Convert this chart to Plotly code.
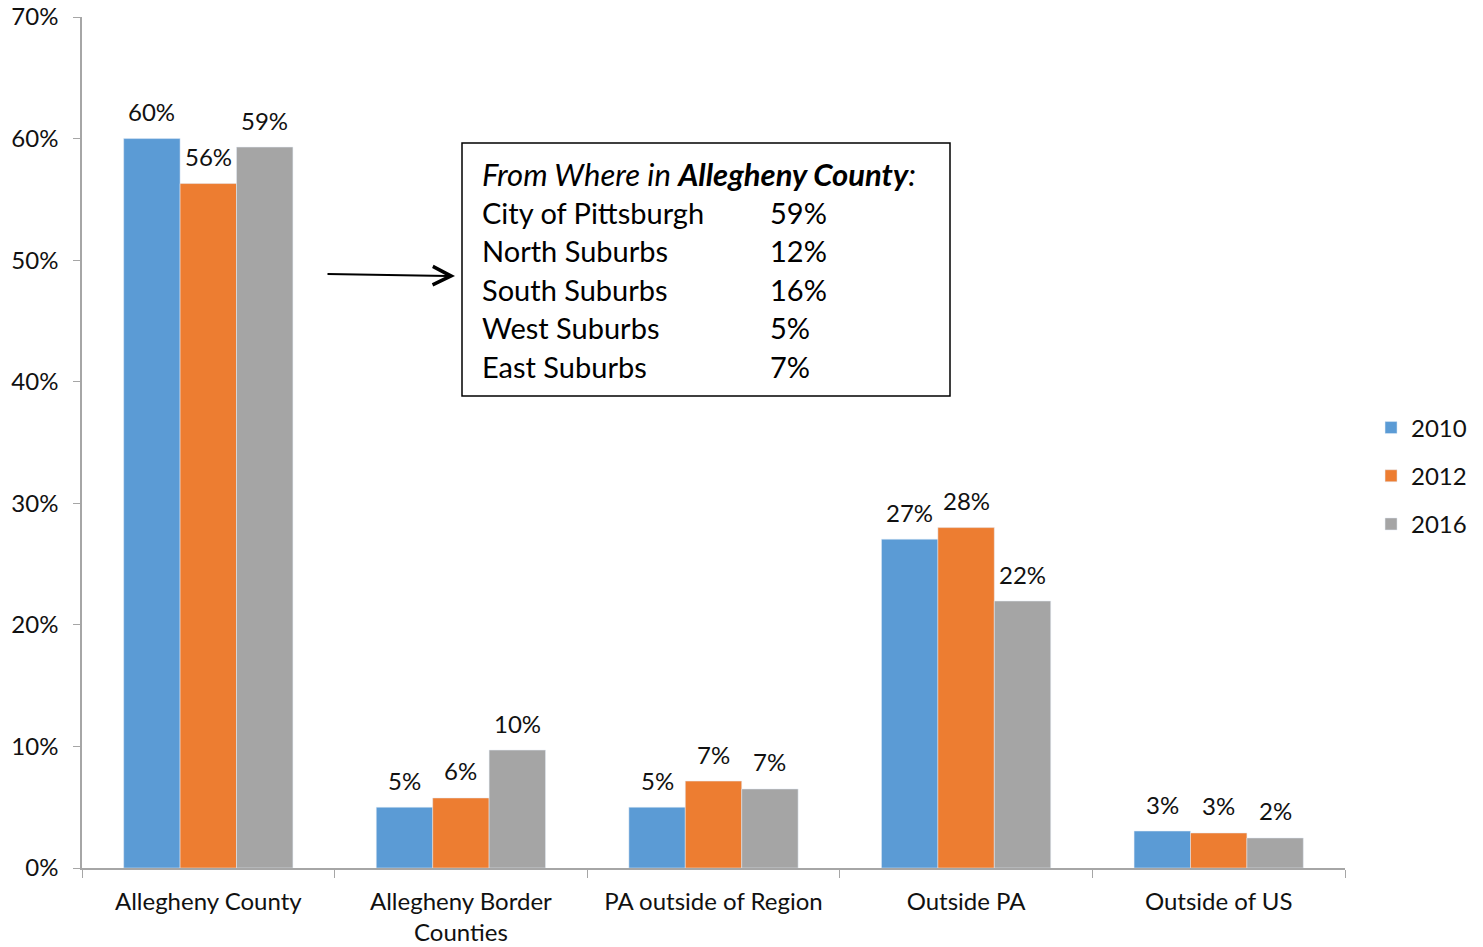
import plotly.graph_objects as go

# ── Data ─────────────────────────────────────────────────────────────────────
categories = ["Allegheny County", "Allegheny Border<br>Counties",
              "PA outside of Region", "Outside PA", "Outside of US"]
years = ["2010", "2012", "2016"]
values_2010 = [60.0, 5.0, 5.0, 27.05, 3.04]
values_2012 = [56.3, 5.76, 7.15, 28.0, 2.88]
values_2016 = [59.3, 9.7, 6.5, 21.96, 2.47]
y_ticks = [0, 10, 20, 30, 40, 50, 60, 70]

box_title = "<i>From Where in <b>Allegheny County</b>:</i>"
box_areas = ["City of Pittsburgh", "North Suburbs", "South Suburbs",
             "West Suburbs", "East Suburbs"]
box_shares = ["59%", "12%", "16%", "5%", "7%"]

# ── Style ────────────────────────────────────────────────────────────────────
BLUE   = "#5B9BD5"
ORANGE = "#ED7D31"
GREY   = "#A5A5A5"
AXIS   = "#A6A6A6"
FONT   = "Lato, sans-serif"
INK    = "#111111"

W, H = 1483, 947
MARGIN = dict(l=82, r=138, t=17, b=79)
BARGAP = 0.33

series = [values_2010, values_2012, values_2016]
colors = [BLUE, ORANGE, GREY]

fig = go.Figure()
for name, vals, col in zip(years, series, colors):
    fig.add_trace(go.Bar(
        x=categories,
        y=vals,
        name=name,
        marker_color=col,
        legendgroup=name,
    ))

# value labels sit a bit higher above the bars than plotly's "outside" text
plot_w = W - MARGIN["l"] - MARGIN["r"]
bar_w = plot_w / len(categories) * (1 - BARGAP) / len(years)
for i, vals in enumerate(series):
    for cat, v in zip(categories, vals):
        fig.add_annotation(
            x=cat, y=v, text=f"{int(v + 0.5)}%",
            xshift=(i - 1) * bar_w, yshift=27,
            xanchor="center", yanchor="middle", showarrow=False,
            font=dict(size=24, color=INK),
        )

fig.update_layout(
    width=W, height=H,
    paper_bgcolor="white", plot_bgcolor="white",
    font=dict(family=FONT, size=24, color=INK),
    margin=MARGIN,
    barmode="group", bargap=BARGAP, bargroupgap=0,
    legend=dict(xref="container", yref="container",
                x=0.9245, y=0.4974, xanchor="left", yanchor="middle",
                font=dict(size=24), tracegroupgap=14),
    showlegend=True,
)
fig.update_xaxes(
    showline=True, linecolor=AXIS, linewidth=1.5,
    ticks="outside", tickson="boundaries", ticklen=8, tickcolor=AXIS,
    showgrid=False, automargin=False, tickfont=dict(size=24),
    ticklabelstandoff=11,
)
fig.update_yaxes(
    range=[0, 70], tickvals=y_ticks, ticktext=[f"{t}%" for t in y_ticks],
    showline=True, linecolor=AXIS, linewidth=1.5,
    ticks="outside", ticklen=7, tickcolor=AXIS, showgrid=False, zeroline=False,
    automargin=False, tickfont=dict(size=24), ticklabelstandoff=10,
    ticklabeloverflow="allow",
)

# ── Inset box ────────────────────────────────────────────────────────────────
# helpers: screen pixel -> paper fraction of the plot area (82..1345, 17..868)
px0, pw, py0, ph = 82, 1263, 17, 851
def xp(px): return (px - px0) / pw
def yp(py): return 1 - (py - py0) / ph

fig.add_shape(type="rect", xref="paper", yref="paper",
              x0=xp(462), x1=xp(950), y0=yp(396), y1=yp(143),
              line=dict(color="black", width=1.5), fillcolor="white")

fig.add_annotation(text=box_title, xref="paper", yref="paper",
                   x=xp(480), y=yp(174), xanchor="left", yanchor="middle",
                   showarrow=False, font=dict(size=31, color="black"))
row_y = [212, 251, 289, 327, 366]
for area, share, ry in zip(box_areas, box_shares, row_y):
    fig.add_annotation(text=area, xref="paper", yref="paper",
                       x=xp(480), y=yp(ry), xanchor="left", yanchor="middle",
                       showarrow=False, font=dict(size=29, color="black"))
    fig.add_annotation(text=share, xref="paper", yref="paper",
                       x=xp(768), y=yp(ry), xanchor="left", yanchor="middle",
                       showarrow=False, font=dict(size=29, color="black"))

# arrow pointing from the Allegheny bars into the box
fig.add_annotation(text="", xref="paper", yref="paper",
                   x=xp(455), y=yp(276), ax=-129, ay=-2,
                   showarrow=True, arrowhead=5, arrowsize=1.8,
                   arrowwidth=2, arrowcolor="black")

# drop the default 8px page margin so the figure fills the window exactly
fig.write_html("out.html", config={"displayModeBar": False},
               post_script="document.body.style.margin='0';")
